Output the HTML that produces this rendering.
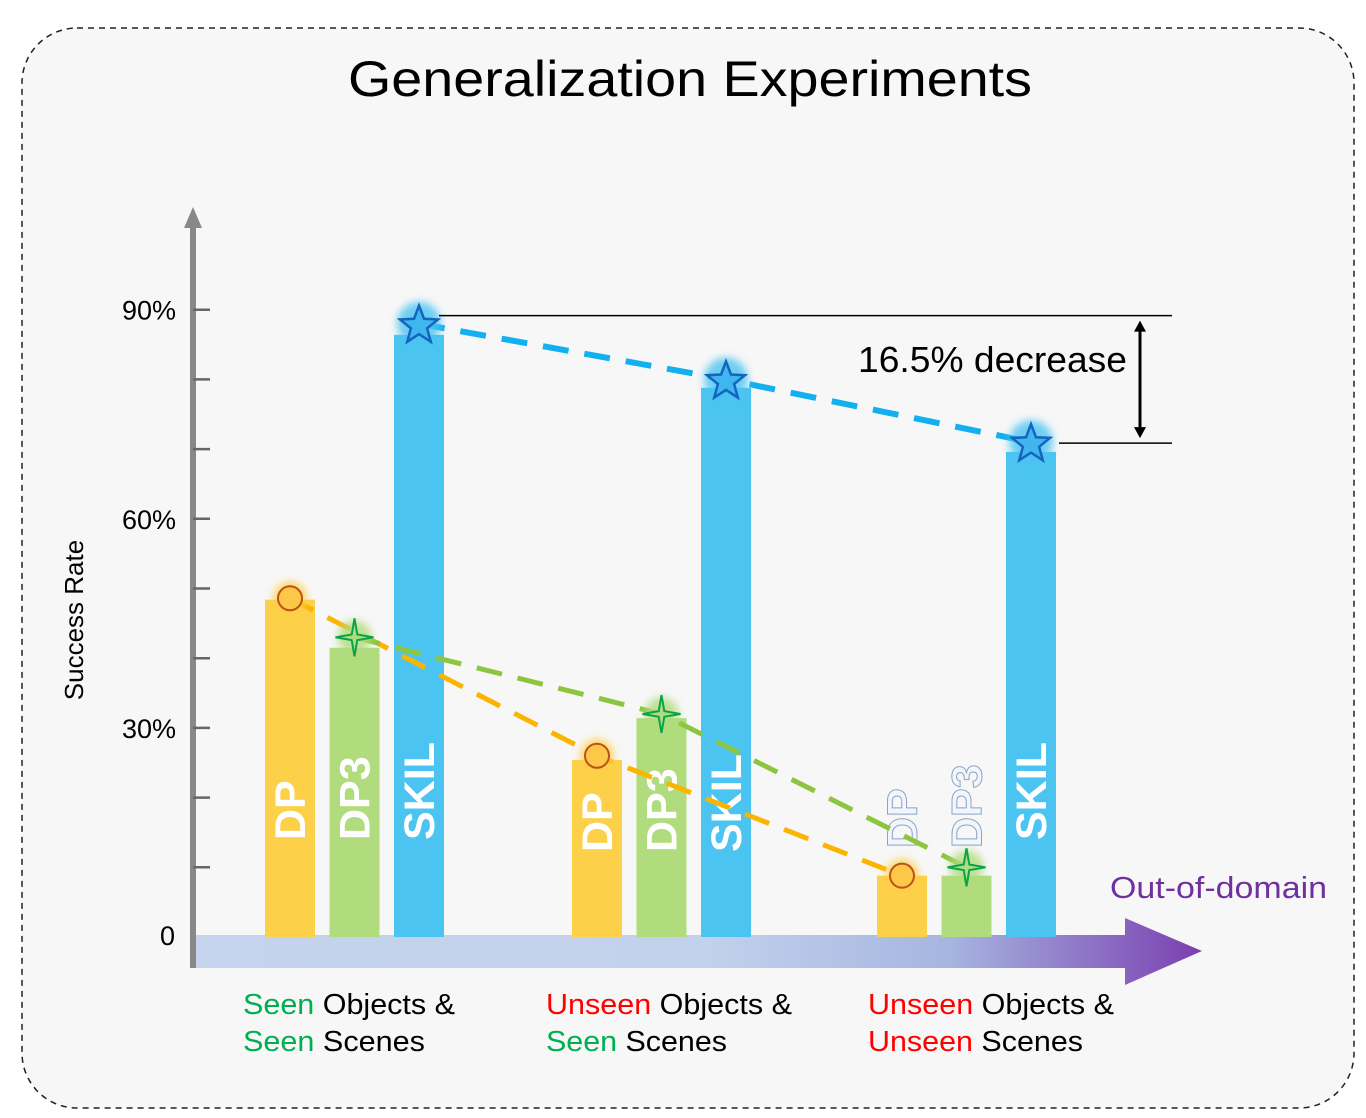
<!DOCTYPE html>
<html><head><meta charset="utf-8">
<style>
html,body{margin:0;padding:0;background:#fff;}
body{width:1366px;height:1118px;position:relative;overflow:hidden;font-family:"Liberation Sans",sans-serif;}
svg{position:absolute;left:0;top:0;}
</style></head>
<body>
<svg id="chart" width="1366" height="1118" viewBox="0 0 1366 1118">
<defs>
<linearGradient id="xg" x1="0" x2="1" y1="0" y2="0">
<stop offset="0" stop-color="#c5d3ec"/><stop offset="0.5" stop-color="#c3d2ec"/><stop offset="0.75" stop-color="#a6b5e0"/><stop offset="1" stop-color="#7a3fb0"/>
</linearGradient>
<filter id="glow" x="-50%" y="-50%" width="200%" height="200%"><feGaussianBlur stdDeviation="4"/></filter>
</defs>
<rect x="22" y="28" width="1332" height="1080" rx="55" fill="#f7f7f7" stroke="#222" stroke-width="1.5" stroke-dasharray="6,5"/>
<text x="348" y="96" textLength="684" lengthAdjust="spacingAndGlyphs" font-size="50" fill="#000">Generalization Experiments</text>
<g id="plot"></g>
</svg>
<script>
const groups = ["Seen/Seen","Unseen/Seen","Unseen/Unseen"];
const dpVals = [48.4, 25.4, 8.8];
const dp3Vals = [41.5, 31.4, 8.8];
const skilVals = [86.4, 78.8, 69.6];
const dpMarks = [48.6, 26, 8.8];
const dp3Marks = [43, 32, 10];
const skilMarks = [88, 80, 71];
const yTickLabels = ["0","30%","60%","90%"];
const yTickVals = [0,30,60,90];
const minorTicks = [10,20,40,50,70,80];

const y0 = 937, pxPer = 6.97;
const yS = v => y0 - v*pxPer;
const groupX = [265, 572, 877];
const xS = (g, s) => groupX[g] + s*64.5;
const bw = 50;
const NS = "http://www.w3.org/2000/svg";
const plot = document.getElementById('plot');
function mk(tag, attrs, parent){const e=document.createElementNS(NS,tag);for(const k in attrs)e.setAttribute(k,attrs[k]);(parent||plot).appendChild(e);return e;}

let xa = mk('path',{d:"M193 935 L1125 935 L1125 918 L1202 951 L1125 985 L1125 968 L193 968 Z",fill:"url(#xg)"});


let ya = mk('line',{x1:193,y1:968,x2:193,y2:222,stroke:"#888",'stroke-width':6});


let yh = mk('path',{d:"M184 228 L193 207 L202 228 Z",fill:"#888"});


yTickVals.forEach((v,i)=>{
  if(v>0){let t=mk('line',{x1:193,y1:yS(v),x2:210,y2:yS(v),stroke:"#666",'stroke-width':2.5});
  
  }
  let l=mk('text',{x:v===0?175:176,y:yS(v)+(v===0?8:10),'text-anchor':'end','font-size':27,fill:'#000'});
  l.textContent=yTickLabels[i];
  
  
});
minorTicks.forEach(v=>{let t=mk('line',{x1:193,y1:yS(v),x2:210,y2:yS(v),stroke:"#666",'stroke-width':2.5});
  
  });
let yt=mk('text',{x:0,y:0,transform:"translate(83,620) rotate(-90)",'text-anchor':'middle','font-size':26,fill:'#000'});
yt.textContent="Success Rate";



const series=[
 {name:'dp',vals:dpVals,marks:dpMarks,color:'#fdd049',line:'#fbb400',label:'DP'},
 {name:'dp3',vals:dp3Vals,marks:dp3Marks,color:'#b1dc7d',line:'#8cc63f',label:'DP3'},
 {name:'skil',vals:skilVals,marks:skilMarks,color:'#4bc4f1',line:'#12b0ef',label:'SKIL'}];
series.forEach((s,si)=>{
  s.vals.forEach((v,g)=>{
    let b=mk('rect',{x:xS(g,si),y:yS(v),width:bw,height:y0-yS(v),fill:s.color});
    
    
    const bottom = g===2 && si<2 ? 848 : (g===1?852:840);
    let t=mk('text',{x:0,y:0,transform:`translate(${xS(g,si)+bw/2+15},${bottom}) rotate(-90)`,'font-size':43,'font-weight':'bold',fill:(g===2&&si<2)?'#f2f6fb':'#fff',stroke:(g===2&&si<2)?'#8aa4c8':'none','stroke-width':1});
    t.textContent=s.label;
    
    
  });
});
series.forEach((s,si)=>{
  const pts=s.marks.map((v,g)=>[xS(g,si)+bw/2,yS(v)]);
  let p=mk('polyline',{points:pts.map(p=>p.join(',')).join(' '),fill:'none',stroke:s.line,'stroke-width':si===2?6:5,'stroke-dasharray':'26,16'});
  
  
});
function star(cx,cy,R,r,n){let pts=[];for(let i=0;i<2*n;i++){const a=-Math.PI/2+i*Math.PI/n;const rr=i%2?r:R;pts.push((cx+rr*Math.cos(a)).toFixed(1)+','+(cy+rr*Math.sin(a)).toFixed(1));}return pts.join(' ');}
series.forEach((s,si)=>{
  s.marks.forEach((v,g)=>{
    const cx=xS(g,si)+bw/2, cy=yS(v);
    let gl=mk('circle',{cx:cx,cy:cy,r:si===2?22:17,fill:si===2?'#4bc4f1':(si===0?'#fdd049':'#b1dc7d'),filter:'url(#glow)',opacity:0.8});
    
    
    let m;
    if(si===0) m=mk('circle',{cx:cx,cy:cy,r:12,fill:'#fdc847',stroke:'#c0501a','stroke-width':2});
    else if(si===1) m=mk('polygon',{points:star(cx,cy,19,4,4),fill:'#b1dc7d',stroke:'#0aa34a','stroke-width':2});
    else m=mk('polygon',{points:star(cx,cy+2,20,8.5,5),fill:'#3fb6ee',stroke:'#1564c0','stroke-width':2.5});
    
    
  });
});
const topY=yS(skilMarks[0])-8, botY=yS(skilMarks[2])+1;
let l1=mk('line',{x1:xS(0,2)+bw/2+20,y1:topY,x2:1172,y2:topY,stroke:'#000','stroke-width':1.5});


let l2=mk('line',{x1:xS(2,2)+bw/2+28,y1:botY,x2:1172,y2:botY,stroke:'#000','stroke-width':1.5});


let da=mk('g',{});


mk('line',{x1:1140,y1:topY+14,x2:1140,y2:botY-14,stroke:'#000','stroke-width':3},da);
mk('path',{d:`M1134 ${topY+16} L1140 ${topY+5} L1146 ${topY+16} Z`,fill:'#000'},da);
mk('path',{d:`M1134 ${botY-16} L1140 ${botY-5} L1146 ${botY-16} Z`,fill:'#000'},da);
let dt=mk('text',{x:858,y:372,textLength:269,lengthAdjust:'spacingAndGlyphs','font-size':36,fill:'#000'});
dt.textContent="16.5% decrease";


let ood=mk('text',{x:1110,y:898,textLength:217,lengthAdjust:'spacingAndGlyphs','font-size':31,fill:'#7030a0'});
ood.textContent="Out-of-domain";


const catLines=[[["Seen","#00b050"],["Seen","#00b050"]],[["Unseen","#ff0000"],["Seen","#00b050"]],[["Unseen","#ff0000"],["Unseen","#ff0000"]]];
const catX=[243,546,868];
const catW1=[212,246,246];
const catW2=[182,181,215];
catLines.forEach((c,g)=>{
  const t1=mk('text',{x:catX[g],y:1014,'font-size':29,fill:'#000',textLength:catW1[g],lengthAdjust:'spacingAndGlyphs'});
  t1.innerHTML=`<tspan fill="${c[0][1]}">${c[0][0]}</tspan> Objects &amp;`;
  
  
  const t2=mk('text',{x:catX[g],y:1051,'font-size':29,fill:'#000',textLength:catW2[g],lengthAdjust:'spacingAndGlyphs'});
  t2.innerHTML=`<tspan fill="${c[1][1]}">${c[1][0]}</tspan> Scenes`;
  
  
});
</script>
</body></html>
